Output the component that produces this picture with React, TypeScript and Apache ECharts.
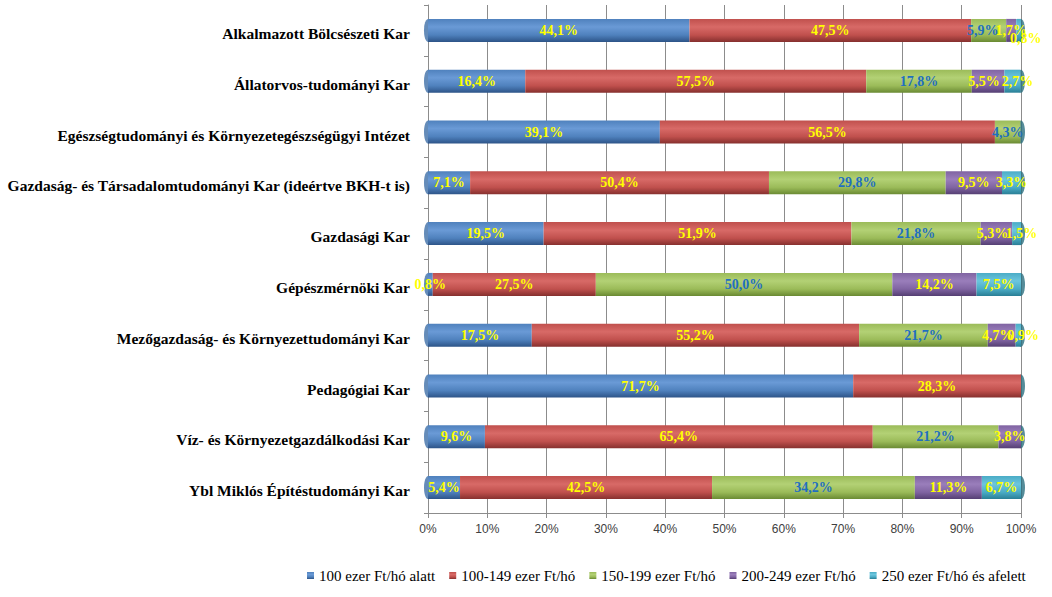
import React, { useEffect, useRef } from "react";
import * as echarts from "echarts";

const categories = [
  "Alkalmazott Bölcsészeti Kar",
  "Állatorvos-tudományi Kar",
  "Egészségtudományi és Környezetegészségügyi Intézet",
  "Gazdaság- és Társadalomtudományi Kar (ideértve BKH-t is)",
  "Gazdasági Kar",
  "Gépészmérnöki Kar",
  "Mezőgazdaság- és Környezettudományi Kar",
  "Pedagógiai Kar",
  "Víz- és Környezetgazdálkodási Kar",
  "Ybl Miklós Építéstudományi Kar",
];

const seriesNames = [
  "100 ezer Ft/hó alatt",
  "100-149 ezer Ft/hó",
  "150-199 ezer Ft/hó",
  "200-249 ezer Ft/hó",
  "250 ezer Ft/hó és afelett",
];

const under100 = [44.1, 16.4, 39.1, 7.1, 19.5, 0.8, 17.5, 71.7, 9.6, 5.4];
const from100to149 = [47.5, 57.5, 56.5, 50.4, 51.9, 27.5, 55.2, 28.3, 65.4, 42.5];
const from150to199 = [5.9, 17.8, 4.3, 29.8, 21.8, 50.0, 21.7, 0, 21.2, 34.2];
const from200to249 = [1.7, 5.5, 0, 9.5, 5.3, 14.2, 4.7, 0, 3.8, 11.3];
const over250 = [0.8, 2.7, 0, 3.3, 1.5, 7.5, 0.9, 0, 0, 6.7];

const barStart = categories.map(() => 0);
const barEnd = categories.map(() => 100);
const xTicks = ["0%", "10%", "20%", "30%", "40%", "50%", "60%", "70%", "80%", "90%", "100%"];

const seriesData = [under100, from100to149, from150to199, from200to249, over250];
const baseColors = ["#4F81BD", "#C0504D", "#9BBB59", "#8064A2", "#4BACC6"];
const lightColors = ["#6A9AD6", "#D86A67", "#B3D175", "#9A7EBB", "#6CC6DE"];
const darkColors = ["#2D5488", "#86302E", "#6A8A33", "#553F73", "#2A7F96"];
const labelColors = ["#FFFF00", "#FFFF00", "#1F6FC0", "#FFFF00", "#FFFF00"];

const fmt = (v: number) => v.toFixed(1).replace(".", ",") + "%";

export default function App() {
  const ref = useRef<HTMLDivElement>(null);
  useEffect(() => {
    if (!ref.current) return;
    const chart = echarts.init(ref.current, undefined, { renderer: "svg" });
    const serif = "'Liberation Serif', 'DejaVu Serif', serif";
    const sans = "'Liberation Sans', Arial, sans-serif";
    const barSeries = seriesNames.map((name, i) => ({
      name,
      type: "bar",
      stack: "total",
      barWidth: 23,
      z: 3,
      data: seriesData[i].map((v, r) => {
        if (!(v > 0)) return null;
        const prev = i > 0 ? seriesData[i - 1][r] : 100;
        const next = i < 4 ? seriesData[i + 1][r] : 0;
        if (i === 4 && v < 1 && prev < 2) {
          return { value: v, label: { offset: [7, 8] } };
        }
        if (i === 4 && v < 3) {
          return { value: v, label: { offset: [5, 0] } };
        }
        if (i === 3 && v >= 2 && v < 6 && next > 0 && next < 3) {
          return { value: v, label: { offset: [-4, 0] } };
        }
        if (i === 2 && v < 7 && next > 0 && next < 2) {
          return { value: v, label: { offset: [-6, 0] } };
        }
        return v;
      }),
      itemStyle: {
        color: new echarts.graphic.LinearGradient(0, 0, 0, 1, [
          { offset: 0, color: baseColors[i] },
          { offset: 0.35, color: lightColors[i] },
          { offset: 0.7, color: baseColors[i] },
          { offset: 1, color: darkColors[i] },
        ]),
      },
      label: {
        show: true,
        position: "inside",
        formatter: (p: any) => (p.value ? fmt(p.value) : ""),
        color: labelColors[i],
        fontFamily: serif,
        fontWeight: "bold",
        fontSize: 14,
      },
      emphasis: { disabled: true },
    }));
    const option: any = {
      animation: false,
      textStyle: { fontFamily: serif },
      grid: { left: 428, right: 31, top: 5, height: 508 },
      legend: {
        data: seriesNames,
        left: 302,
        top: 563,
        width: 760,
        icon: "rect",
        itemWidth: 7,
        itemHeight: 7,
        itemGap: 14,
        textStyle: { fontFamily: serif, fontSize: 15, color: "#000" },
      },
      xAxis: {
        type: "value",
        min: 0,
        max: 100,
        interval: 10,
        axisLine: { show: true, lineStyle: { color: "#8C8C8C" } },
        axisTick: { show: true, length: 5, lineStyle: { color: "#8C8C8C" } },
        splitLine: { show: true, lineStyle: { color: "#8C8C8C" } },
        axisLabel: {
          formatter: (v: number) => xTicks[Math.round(v / 10)],
          fontFamily: sans,
          fontSize: 12,
          color: "#404040",
          margin: 10,
        },
      },
      yAxis: {
        type: "category",
        data: categories,
        inverse: true,
        offset: 8,
        axisLine: { show: true, lineStyle: { color: "#8C8C8C" } },
        axisTick: { show: true, length: 4, lineStyle: { color: "#8C8C8C" } },
        axisLabel: {
          fontFamily: serif,
          fontWeight: "bold",
          fontSize: 15.5,
          color: "#000",
          margin: 10,
          verticalAlign: "top",
          lineHeight: 6,
        },
      },
      series: [
        ...barSeries,
        {
          name: "capStart",
          type: "scatter",
          data: barStart,
          symbol: "circle",
          symbolSize: [8, 23],
          itemStyle: { color: "#3F6FA8" },
          z: 2,
          silent: true,
        },
        {
          name: "capEnd",
          type: "scatter",
          data: barEnd,
          symbol: "circle",
          symbolSize: [8, 23],
          itemStyle: { color: "#2A6F80" },
          z: 2,
          silent: true,
        },
      ],
    };
    chart.setOption(option);
    return () => chart.dispose();
  }, []);
  return (
    <div
      ref={ref}
      style={{ position: "fixed", left: 0, top: 0, width: 1052, height: 597, background: "#fff" }}
    />
  );
}
